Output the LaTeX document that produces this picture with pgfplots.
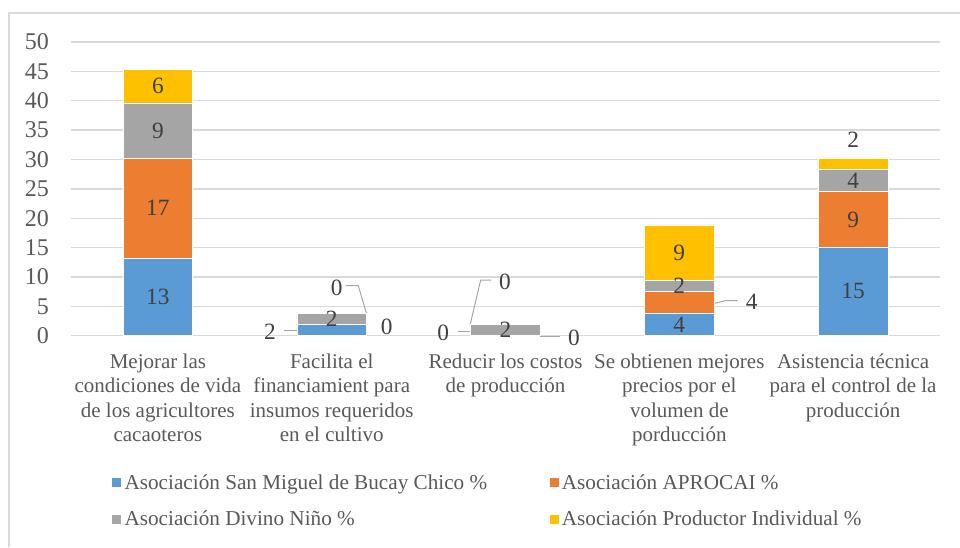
\documentclass[border=0pt]{standalone}
\usepackage{pgfplots}
\pgfplotsset{compat=1.18}
\usepackage{fontspec}
\setmainfont{Liberation Serif}
\definecolor{cblue}{HTML}{5B9BD5}
\definecolor{corange}{HTML}{ED7D31}
\definecolor{cgray}{HTML}{A5A5A5}
\definecolor{cyellow}{HTML}{FFC000}
\definecolor{gridc}{HTML}{D9D9D9}
\definecolor{tickc}{HTML}{595959}
\definecolor{labc}{HTML}{404040}
\definecolor{leadc}{HTML}{A6A6A6}
\begin{document}
\begin{tikzpicture}
\begin{axis}[
  scale only axis,
  width=651.75pt, height=220.3pt,
  ybar stacked, bar width=0.4,
  xmin=-0.5, xmax=4.5, ymin=0, ymax=50,
  ytick={0,5,...,50}, xtick={0,1,2,3,4},
  xticklabels={{Mejorar las\\condiciones de vida\\de los agricultores\\cacaoteros},
               {Facilita el\\financiamient para\\insumos requeridos\\en el cultivo},
               {Reducir los costos\\de producción},
               {Se obtienen mejores\\precios por el\\volumen de\\porducción},
               {Asistencia técnica\\para el control de la\\producción}},
  axis line style={draw=none}, major tick length=0pt, tick style={draw=none},
  ymajorgrids, grid style={gridc, line width=1.1pt},
  /pgf/number format/assume math mode=true,
  yticklabel style={font=\fontsize{18}{20}\selectfont, text=tickc, anchor=east, xshift=-13pt},
  xticklabel style={font=\fontsize{15.75}{18.4}\selectfont, text=tickc, align=center, anchor=north, yshift=-10pt},
  legend columns=2, legend cell align=left,
  legend style={at={(axis description cs:0.046,-0.462)}, anchor=north west, draw=none, fill=none,
    font=\fontsize{15.9}{18.5}\selectfont, text=tickc, inner sep=0pt, row sep=11pt,
    /tikz/column 2/.style={column sep=44pt}},
  legend image code/.code={\fill[#1] (0pt,-3.75pt) rectangle (7.5pt,3.75pt);},
  clip=false,
]
\addplot[fill=cblue, draw=white, line width=0.5pt] coordinates {(0,13.21) (1,1.89) (2,0) (3,3.77) (4,15.09)};
\addplot[fill=corange, draw=white, line width=0.5pt] coordinates {(0,16.98) (1,0) (2,0) (3,3.77) (4,9.43)};
\addplot[fill=cgray, draw=white, line width=0.5pt] coordinates {(0,9.43) (1,1.89) (2,1.89) (3,1.89) (4,3.77)};
\addplot[fill=cyellow, draw=white, line width=0.5pt] coordinates {(0,5.66) (1,0) (2,0) (3,9.43) (4,1.89)};
\legend{Asociación San Miguel de Bucay Chico \%, Asociación APROCAI \%, Asociación Divino Niño \%, Asociación Productor Individual \%}
\coordinate (BL) at (axis description cs:-0.0817,-0.7194);
\coordinate (TR) at (axis description cs:1.0230,1.1430);
\coordinate (B1) at (axis description cs:-0.0713,-0.7194);
\coordinate (B2) at (axis description cs:-0.0713,1.0987);
\coordinate (B3) at (axis description cs:1.0230,1.0987);
\coordinate (l1) at (0,6.6);
\coordinate (l2) at (0,21.7);
\coordinate (l3) at (0,34.9);
\coordinate (l4) at (0,42.45);
\coordinate (l5) at (1,2.83);
\coordinate (l6) at (2,0.95);
\coordinate (l7) at (3,1.89);
\coordinate (l8) at (3,8.49);
\coordinate (l9) at (3,14.15);
\coordinate (l10) at (4,7.55);
\coordinate (l11) at (4,19.8);
\coordinate (l12) at (4,26.4);
\coordinate (l13) at (4,33.3);
\coordinate (c1) at (0.645,0.68);
\coordinate (c2) at (1.316,1.53);
\coordinate (c3) at (1.029,8.07);
\coordinate (c4) at (1.642,0.51);
\coordinate (c5) at (2.394,-0.44);
\coordinate (c6) at (1.997,9.19);
\coordinate (c7) at (3.417,5.69);
\draw[leadc, line width=0.75pt] (0.726,0.85) -- (0.800,0.85);
\draw[leadc, line width=0.75pt] (1.082,8.51) -- (1.153,8.51) -- (1.201,3.69);
\draw[leadc, line width=0.75pt] (1.728,0.75) -- (1.800,0.75);
\draw[leadc, line width=0.75pt] (2.198,-0.05) -- (2.313,-0.05);
\draw[leadc, line width=0.75pt] (1.917,9.48) -- (1.857,9.48) -- (1.796,1.82);
\draw[leadc, line width=0.75pt] (3.205,5.52) -- (3.263,5.96) -- (3.334,5.96);
\end{axis}
\tikzset{lab/.style={font=\fontsize{17.5}{20}\selectfont, text=labc, anchor=center, inner sep=0pt}}
\node[lab] at (l1) {13};
\node[lab] at (l2) {17};
\node[lab] at (l3) {9};
\node[lab] at (l4) {6};
\node[lab] at (l5) {2};
\node[lab] at (l6) {2};
\node[lab] at (l7) {4};
\node[lab] at (l8) {2};
\node[lab] at (l9) {9};
\node[lab] at (l10) {15};
\node[lab] at (l11) {9};
\node[lab] at (l12) {4};
\node[lab] at (l13) {2};
\node[lab] at (c1) {2};
\node[lab] at (c2) {0};
\node[lab] at (c3) {0};
\node[lab] at (c4) {0};
\node[lab] at (c5) {0};
\node[lab] at (c6) {0};
\node[lab] at (c7) {4};
\draw[gridc, line width=0.9pt] (B1) -- (B2) -- (B3);
\pgfresetboundingbox
\path (BL) rectangle (TR);
\end{tikzpicture}
\end{document}
